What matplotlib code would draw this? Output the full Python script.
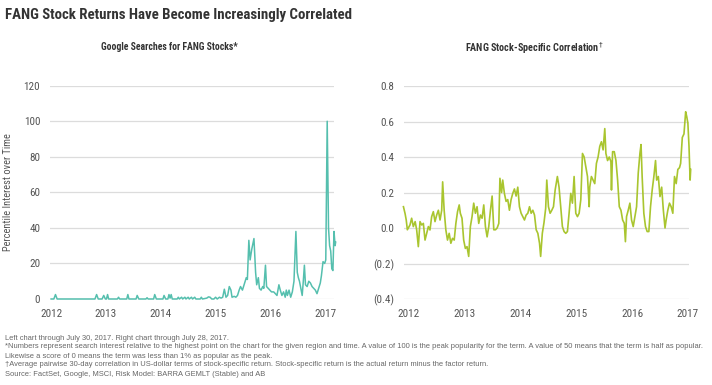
import matplotlib
matplotlib.use("Agg")
import matplotlib.pyplot as plt
from matplotlib import font_manager

# years since 2012
search_t = [0, 0.05, 0.08, 0.11, 0.8, 0.83, 0.86, 0.93, 0.96, 0.99, 1.01, 1.03, 1.05,
            1.21, 1.23, 1.25, 1.38, 1.4, 1.42, 1.55, 1.57, 1.6, 1.73, 1.75, 1.77, 1.87,
            1.89, 1.92, 2.04, 2.06, 2.09, 2.13, 2.15, 2.17, 2.19, 2.21, 2.3, 2.32, 2.34,
            2.38, 2.4, 2.44, 2.46, 2.5, 2.52, 2.56, 2.58, 2.62, 2.64, 2.72, 2.74, 2.76,
            2.84, 2.87, 2.9, 2.93, 2.97, 3.0, 3.03, 3.07, 3.1, 3.13, 3.16, 3.19, 3.22,
            3.25, 3.28, 3.3, 3.34, 3.37, 3.4, 3.43, 3.455, 3.49, 3.52, 3.56, 3.58, 3.607,
            3.63, 3.66, 3.7, 3.73, 3.75, 3.78, 3.8, 3.83, 3.86, 3.88, 3.91, 3.93, 3.96,
            3.99, 4.02, 4.06, 4.09, 4.12, 4.155, 4.18, 4.21, 4.24, 4.27, 4.29, 4.31, 4.34,
            4.37, 4.4, 4.43, 4.465, 4.49, 4.51, 4.53, 4.56, 4.58, 4.6, 4.62, 4.64, 4.67,
            4.7, 4.73, 4.76, 4.79, 4.82, 4.85, 4.88, 4.91, 4.93, 4.96, 4.99, 5.01, 5.036,
            5.06, 5.08, 5.1, 5.12, 5.14, 5.16, 5.18, 5.19]
search_v = [0, 0, 2.5, 0, 0, 2.5, 0, 0, 2, 0, 0, 2.5, 0,
            0, 1, 0, 0, 2.5, 0, 0, 2, 0, 0, 0.7, 0, 0,
            2.5, 0, 0, 2, 0, 0, 2.5, 0.5, 2.5, 0, 0, 1, 0,
            1, 0, 1, 0, 1, 0, 1, 0, 1, 0, 0, 1, 0,
            0.5, 1.2, 1, 0, 0, 1, 0, 1, 0.5, 1, 5.5, 1, 2,
            7, 5, 1, 1.5, 1, 2, 5, 7, 5, 8, 12, 11, 33,
            22, 28, 34, 15, 8, 12, 6, 5, 7, 6, 19, 7, 6,
            5, 4, 4, 3, 2, 8, 5, 2, 4, 1, 5, 2, 5,
            1, 4, 10, 38, 15, 12, 10, 5, 2, 10, 19, 8, 7,
            10, 9, 7, 6, 5, 3, 6, 9, 13, 21, 20, 22, 100,
            40, 30, 27, 17, 16, 38, 30, 32]

corr_t = [-0.10, -0.07, -0.05, -0.03, 0.017, 0.047, 0.077, 0.11, 0.137, 0.167, 0.197,
          0.227, 0.257, 0.287, 0.317, 0.347, 0.376, 0.406, 0.436, 0.466, 0.496, 0.526,
          0.556, 0.586, 0.603, 0.63, 0.66, 0.69, 0.72, 0.75, 0.78, 0.81, 0.84, 0.87,
          0.9, 0.92, 0.95, 0.98, 1.01, 1.04, 1.07, 1.1, 1.13, 1.16, 1.19, 1.22, 1.25,
          1.28, 1.31, 1.34, 1.37, 1.4, 1.43, 1.46, 1.49, 1.52, 1.55, 1.58, 1.61, 1.63,
          1.66, 1.68, 1.71, 1.74, 1.77, 1.8, 1.83, 1.86, 1.89, 1.92, 1.95, 1.98, 2.01,
          2.04, 2.07, 2.10, 2.13, 2.16, 2.19, 2.22, 2.25, 2.28, 2.31, 2.34, 2.36, 2.39,
          2.42, 2.45, 2.47, 2.50, 2.53, 2.56, 2.59, 2.62, 2.66, 2.69, 2.72, 2.75, 2.78,
          2.81, 2.84, 2.87, 2.90, 2.93, 2.96, 2.99, 3.02, 3.05, 3.08, 3.11, 3.14, 3.17,
          3.20, 3.23, 3.24, 3.27, 3.30, 3.33, 3.36, 3.39, 3.42, 3.45, 3.48, 3.51, 3.53,
          3.56, 3.59, 3.62, 3.63, 3.65, 3.68, 3.71, 3.74, 3.77, 3.80, 3.83, 3.86, 3.88,
          3.90, 3.93, 3.96, 3.99, 4.02, 4.05, 4.08, 4.11, 4.14, 4.16, 4.18, 4.21, 4.24,
          4.27, 4.30, 4.33, 4.36, 4.39, 4.42, 4.44, 4.47, 4.50, 4.53, 4.56, 4.59, 4.61,
          4.64, 4.67, 4.70, 4.73, 4.76, 4.79, 4.82, 4.85, 4.87, 4.90, 4.93, 4.96, 4.98,
          5.00, 5.02, 5.04, 5.05]
corr_v = [0.12, 0.08, 0.045, -0.01, 0.017, 0.055, 0.008, 0.036, -0.01, -0.105, 0.036,
          0.017, 0.026, -0.068, -0.03, 0.008, -0.011, 0.064, 0.092, 0.036, 0.073, 0.10,
          0.045, 0.10, 0.26, 0.10, -0.01, -0.068, -0.03, -0.086, -0.058, -0.068, 0.026, 0.092,
          0.13, 0.083, 0.055, -0.068, -0.115, -0.105, -0.16, 0.008, 0.064, 0.14, 0.083, 0.12, 0.026,
          0.073, 0.055, 0.13, 0.008, -0.05, 0.008, 0.10, 0.18, -0.01, -0.01, 0.0, 0.026, 0.28,
          0.20, 0.27, 0.195, 0.15, 0.16, 0.10, 0.16, 0.195, 0.22, 0.18, 0.23, 0.12, 0.083,
          0.064, 0.045, 0.073, 0.083, 0.12, 0.083, 0.10, 0.073, -0.01, -0.03, -0.086, -0.16, -0.03,
          0.03, 0.11, 0.27, 0.12, 0.083, 0.10, 0.12, 0.214, 0.29, 0.23, 0.12, 0.008, -0.02,
          -0.03, -0.02, 0.083, 0.195, 0.14, 0.29, 0.083, 0.064, 0.083, 0.16, 0.42, 0.40, 0.345,
          0.29, 0.12, 0.23, 0.29, 0.27, 0.25, 0.364, 0.40, 0.46, 0.486, 0.44, 0.56, 0.42,
          0.38, 0.40, 0.374, 0.214, 0.43, 0.43, 0.38, 0.27, 0.12, 0.10, 0.045, 0.026, -0.077,
          0.064, 0.10, 0.14, 0.045, 0.008, 0.064, 0.12, 0.31, 0.42, 0.47, 0.29, 0.083, 0.008,
          -0.02, -0.02, 0.12, 0.214, 0.29, 0.38, 0.27, 0.29, 0.177, 0.23, 0.10, 0.0, 0.045,
          0.10, 0.14, 0.12, 0.083, 0.29, 0.25, 0.33, 0.34, 0.364, 0.51, 0.53, 0.655, 0.627,
          0.59, 0.46, 0.27, 0.33]

year_ticks = [0, 1, 2, 3, 4, 5]
year_labels = ["2012", "2013", "2014", "2015", "2016", "2017"]
search_ticks = [0, 20, 40, 60, 80, 100, 120]
corr_ticks = [-0.4, -0.2, 0.0, 0.2, 0.4, 0.6, 0.8]
corr_labels = ["(0.4)", "(0.2)", "0.0", "0.2", "0.4", "0.6", "0.8"]

notes = [
    "Left chart through July 30, 2017. Right chart through July 28, 2017.",
    "*Numbers represent search interest relative to the highest point on the chart for the given region and time. "
    "A value of 100 is the peak popularity for the term. A value of 50 means that the term is half as popular.",
    "Likewise a score of 0 means the term was less than 1% as popular as the peak.",
    "\u2020Average pairwise 30-day correlation in US-dollar terms of stock-specific return. "
    "Stock-specific return is the actual return minus the factor return.",
    "Source: FactSet, Google, MSCI, Risk Model: BARRA GEMLT (Stable) and AB",
]

installed = {f.name for f in font_manager.fontManager.ttflist}
narrow = "DejaVu Sans"
for name in ["Liberation Sans Narrow", "Roboto Condensed", "Roboto", "Liberation Sans"]:
    if name in installed:
        narrow = name
        break
if "Liberation Sans" in installed:
    note_font, note_size = "Liberation Sans", 5.4
else:
    note_font, note_size = "DejaVu Sans", 4.6

W, H = 712, 385
fig = plt.figure(figsize=(W / 100, H / 100), dpi=100)


def box(x0, y0, x1, y1):
    # pixel box -> figure fraction
    return [x0 / W, 1 - y1 / H, (x1 - x0) / W, (y1 - y0) / H]


grid_c = "#dcdcdc"
tick_c = "#555555"

ax1 = fig.add_axes(box(50, 85.7, 334, 299))
ax1.plot(search_t, search_v, color="#55bfae", lw=1.1, clip_on=False, zorder=3)
ax1.set_xlim(-0.02, 5.16)
ax1.set_ylim(0, 120)
ax1.set_yticks(search_ticks)
ax1.set_ylabel("Percentile Interest over Time", fontsize=7.5, color=tick_c,
               family=narrow, labelpad=8)

ax2 = fig.add_axes(box(404, 86, 689, 299))
ax2.plot(corr_t, corr_v, color="#a9c52f", lw=1.2, clip_on=False, zorder=3)
ax2.set_xlim(-0.09, 5.02)
ax2.set_ylim(-0.4, 0.8)
ax2.set_yticks(corr_ticks)
ax2.set_yticklabels(corr_labels)

for ax in (ax1, ax2):
    ax.set_xticks(year_ticks)
    ax.set_xticklabels(year_labels)
    for s in ax.spines.values():
        s.set_visible(False)
    ax.grid(axis="y", color=grid_c, lw=0.9)
    ax.set_axisbelow(True)
    ax.tick_params(length=0, labelsize=8, labelcolor=tick_c, pad=7)
    for lab in ax.get_xticklabels() + ax.get_yticklabels():
        lab.set_family(narrow)

fig.text(5 / W, 1 - 15 / H, "FANG Stock Returns Have Become Increasingly Correlated",
         fontsize=10.7, fontweight="bold", color="#333333", family=narrow, va="center")
fig.text(169 / W, 1 - 46.5 / H, "Google Searches for FANG Stocks*",
         fontsize=7, fontweight="bold", color="#333333", family=narrow,
         ha="center", va="center")
fig.text(534 / W, 1 - 48 / H, "FANG Stock-Specific Correlation$^{\u2020}$",
         fontsize=7.3, fontweight="bold", color="#333333", family=narrow,
         ha="center", va="center")

for i, line in enumerate(notes):
    fig.text(5 / W, 1 - (338 + i * 9) / H, line, fontsize=note_size, color="#666666",
             family=note_font, va="center")

fig.savefig("out.png", dpi=100)
